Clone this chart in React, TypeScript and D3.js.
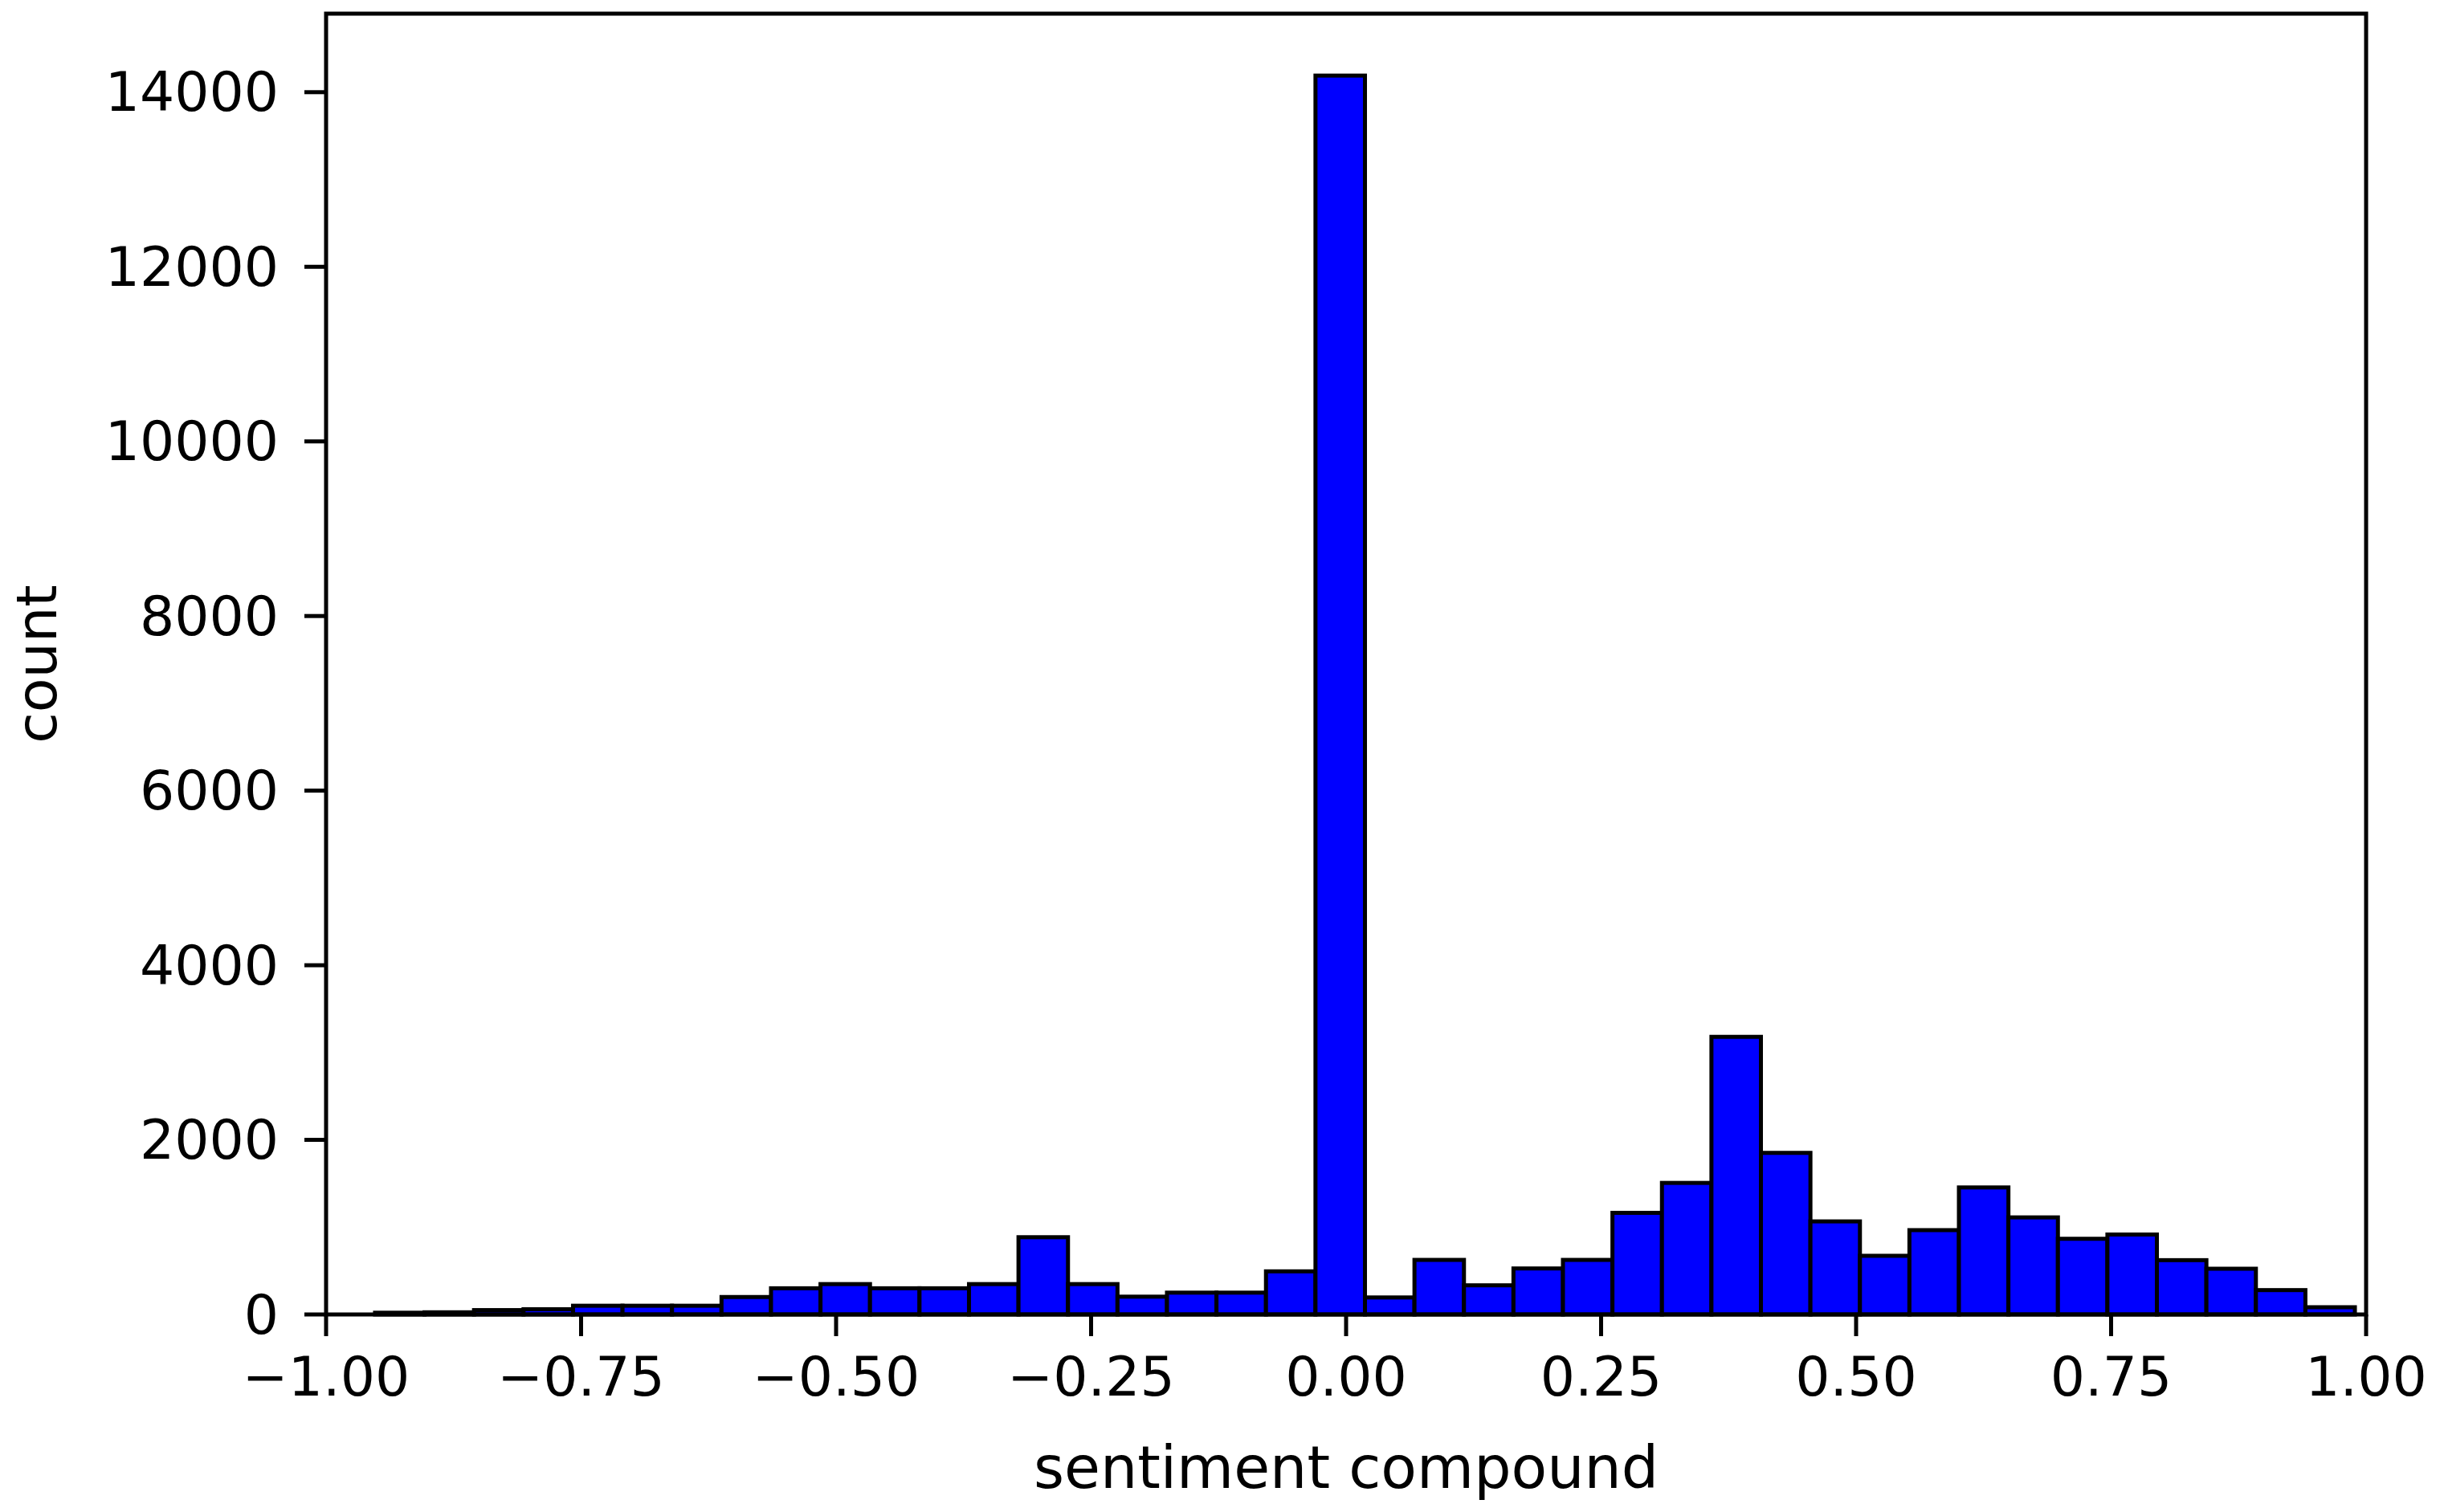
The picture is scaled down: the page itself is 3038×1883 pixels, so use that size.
import React from "react";
import * as d3 from "d3";

// ---- data ----
const binLow = -0.952;
const binHigh = 0.989;
const binCounts = [
  20, 25, 50, 60, 100, 100, 100, 200, 300, 348,
  300, 300, 348, 885, 348, 204, 250, 250, 494, 14190,
  195, 625, 334, 527, 625, 1164, 1507, 3180, 1851, 1066,
  672, 966, 1455, 1112, 867, 916, 622, 524, 279, 83,
];
const xTicks = [-1.0, -0.75, -0.5, -0.25, 0.0, 0.25, 0.5, 0.75, 1.0];
const yTicks = [0, 2000, 4000, 6000, 8000, 10000, 12000, 14000];
const xLabel = "sentiment compound";
const yLabel = "count";

const W = 3038;
const H = 1883;
const M = { left: 406, right: 2946, top: 17, bottom: 1637 };
const FONT = "'DejaVu Sans', sans-serif";
const FS = 68;

export default function App() {
  React.useEffect(() => {
    document.body.style.margin = "0";
  }, []);

  const x = d3.scaleLinear().domain([-1, 1]).range([M.left, M.right]);
  const yMax = d3.max(binCounts)! * 1.05;
  const y = d3.scaleLinear().domain([0, yMax]).range([M.bottom, M.top]);
  const binW = (binHigh - binLow) / binCounts.length;
  const bins = binCounts.map((c, i) => ({
    x0: binLow + i * binW,
    x1: binLow + (i + 1) * binW,
    c,
  }));
  const fmtX = (v: number) => d3.format(".2f")(v).replace("-", "\u2212");
  const tickLen = 27;
  const lw = 5;

  return (
    <svg
      width={W}
      height={H}
      style={{ position: "absolute", left: 0, top: 0, background: "#fff" }}
      fontFamily={FONT}
    >
      <rect x={0} y={0} width={W} height={H} fill="#fff" />
      {bins.map((b, i) => (
        <rect
          key={i}
          x={x(b.x0)}
          y={y(b.c)}
          width={x(b.x1) - x(b.x0)}
          height={y(0) - y(b.c)}
          fill="#0000ff"
          stroke="#000"
          strokeWidth={lw}
        />
      ))}
      {/* frame */}
      <rect
        x={M.left}
        y={M.top}
        width={M.right - M.left}
        height={M.bottom - M.top}
        fill="none"
        stroke="#000"
        strokeWidth={lw}
      />
      {/* y ticks */}
      {yTicks.map((t) => (
        <g key={"y" + t}>
          <line
            x1={M.left - tickLen}
            x2={M.left}
            y1={y(t)}
            y2={y(t)}
            stroke="#000"
            strokeWidth={lw}
          />
          <text
            x={M.left - tickLen - 32}
            y={y(t)}
            textAnchor="end"
            dominantBaseline="central"
            fontSize={FS}
            fill="#000"
          >
            {t}
          </text>
        </g>
      ))}
      {/* x ticks */}
      {xTicks.map((t) => (
        <g key={"x" + t}>
          <line
            x1={x(t)}
            x2={x(t)}
            y1={M.bottom}
            y2={M.bottom + tickLen}
            stroke="#000"
            strokeWidth={lw}
          />
          <text
            x={x(t)}
            y={M.bottom + tickLen + 24}
            textAnchor="middle"
            dominantBaseline="hanging"
            fontSize={FS}
            fill="#000"
          >
            {fmtX(t)}
          </text>
        </g>
      ))}
      <text
        x={(M.left + M.right) / 2}
        y={1853}
        textAnchor="middle"
        fontSize={73}
        fill="#000"
      >
        {xLabel}
      </text>
      <text
        transform={`translate(70, ${(M.top + M.bottom) / 2}) rotate(-90)`}
        textAnchor="middle"
        fontSize={70}
        fill="#000"
      >
        {yLabel}
      </text>
    </svg>
  );
}
